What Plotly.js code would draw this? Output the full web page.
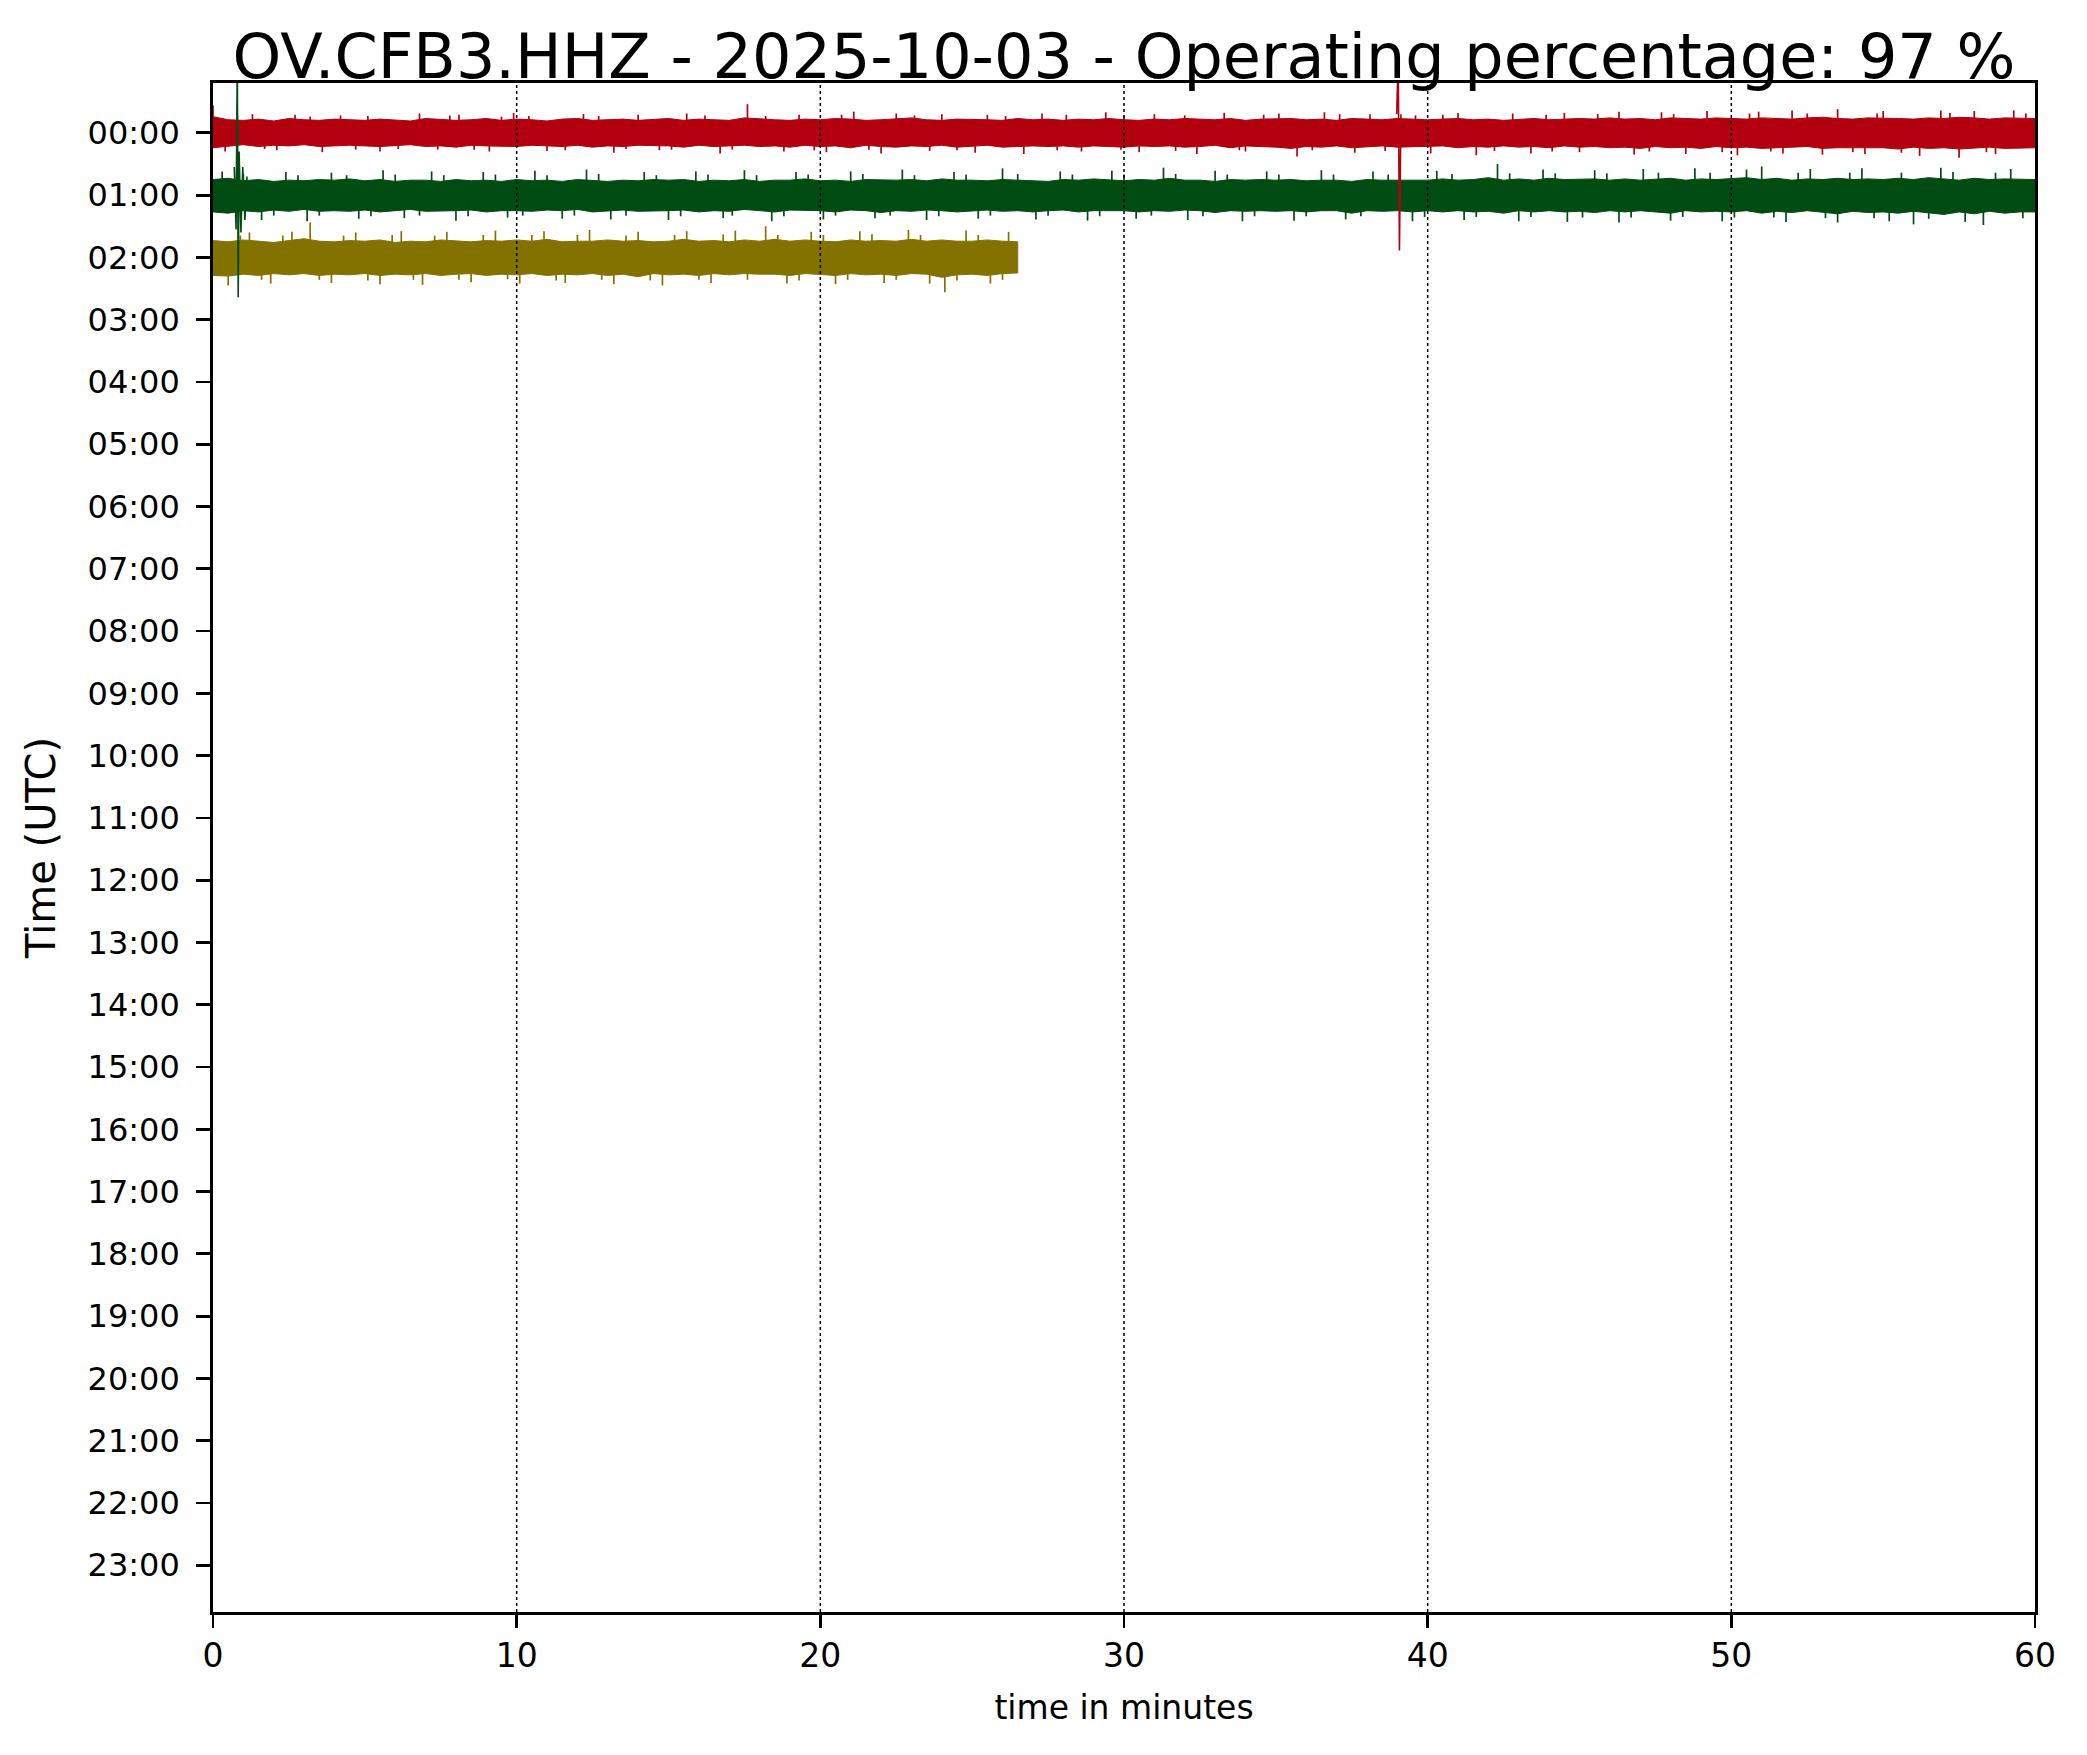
<!DOCTYPE html>
<html>
<head>
<meta charset="utf-8">
<script src="https://cdn.plot.ly/plotly-3.0.1.min.js"></script>
<style>html,body{margin:0;padding:0;background:#fff;}#chart{width:2087px;height:1755px;}</style>
</head>
<body>
<div id="chart"></div>
<script>
// ---- data ----
const titleText = "OV.CFB3.HHZ - 2025-10-03 - Operating percentage: 97 %";
const xTicks = [0, 10, 20, 30, 40, 50, 60];
const hourTicks = [0,1,2,3,4,5,6,7,8,9,10,11,12,13,14,15,16,17,18,19,20,21,22,23];
const hourLabels = ["00:00","01:00","02:00","03:00","04:00","05:00","06:00","07:00","08:00","09:00","10:00","11:00",
  "12:00","13:00","14:00","15:00","16:00","17:00","18:00","19:00","20:00","21:00","22:00","23:00"];
const traceHours = [0, 1, 2];
const traceColors = ["#B2000F", "#004C12", "#847200"];
const sampleStep = 0.5; // minutes between envelope samples

// noise envelope, hundredths of an hour (up = above baseline, down = below)
const redUp = [26,21,20,22,19,23,21,20,22,21, 20,22,21,19,23,22,20,21,23,20, 22,21,19,22,23,20,21,22,20,21,
  23,20,22,21,20,24,22,21,20,22, 21,23,22,20,21,22,24,21,20,22, 22,21,20,23,21,22,20,22,21,23,
  21,20,22,21,23,22,21,23,20,22, 22,23,21,22,20,23,22,21,23,22, 21,22,23,21,22,20,22,23,21,22,
  23,22,24,22,23,21,24,23,22,24, 23,22,24,23,22,24,25,23,22,24, 24,23,22,24,23,25,24,22,24,23, 23];
const redDown = [24,21,19,22,20,21,19,22,21,20, 21,22,20,19,22,21,23,20,21,22, 22,20,21,22,20,23,21,22,20,21,
  21,23,20,22,21,20,22,21,23,20, 22,21,24,20,22,23,21,22,20,23, 21,20,23,22,21,22,21,23,21,22,
  23,21,22,21,23,22,20,24,21,22, 23,25,22,23,21,24,22,21,23,22, 22,21,24,22,23,21,23,22,24,21,
  23,22,24,23,25,22,24,23,25,22, 24,23,25,24,23,22,25,24,23,24, 24,26,23,25,24,26,25,23,25,24, 24];
const greenUp = [25,27,23,25,22,24,23,25,24,26, 23,25,22,24,24,22,25,23,24,22, 25,23,24,22,25,24,22,24,23,25,
  24,25,22,24,23,25,22,24,24,26, 23,24,22,25,24,24,25,23,26,24, 24,23,25,24,24,22,25,24,26,24,
  23,25,24,27,24,24,22,25,24,25, 24,25,23,24,24,22,25,24,24,23, 24,26,24,25,28,24,26,24,27,25,
  25,26,24,26,24,25,27,24,26,25, 26,28,25,27,24,26,25,27,25,26, 25,27,25,28,26,24,27,25,26,25, 25];
const greenDown = [27,29,25,27,24,26,23,26,25,26, 24,27,25,23,26,25,25,24,27,25, 25,26,24,25,23,27,25,24,26,25,
  25,24,27,25,26,23,25,27,24,25, 25,27,24,25,28,25,26,24,25,27, 25,24,26,25,27,25,24,27,25,25,
  25,27,25,26,24,25,28,25,26,25, 26,25,27,25,25,29,25,26,25,27, 25,27,25,27,26,29,25,27,25,27,
  26,28,25,27,25,27,29,25,27,26, 27,25,29,26,28,25,27,30,26,28, 27,29,26,28,31,27,30,26,29,27, 27];
const oliveUp = [27,25,28,26,24,27,30,26,25,27, 26,28,24,26,25,28,26,25,27,26, 28,26,29,25,26,26,28,26,27,25,
  26,29,26,27,25,28,26,29,26,28, 26,25,28,26,27,26,29,26,28,26, 26,28,26,25];
const oliveDown = [29,30,27,29,26,28,26,29,27,28, 26,29,27,28,26,29,27,26,29,27, 28,26,29,27,28,26,29,27,31,26,
  28,27,29,26,28,26,27,27,29,26, 27,29,26,28,27,29,26,27,32,28, 27,29,26,25];

// larger noise spikes: minute and peak (hundredths of an hour, + up / - down)
const redSpikeMin = [0.0,0.4,1.3,2.1,2.7,3.6,4.2,5.5,6.8,7.4,8.1,9.1,9.9,11.0,12.2,13.2,14.0,14.7,15.6,16.7,17.6,18.8,19.3,
  20.2,21.1,22.0,22.5,23.6,24.0,25.1,25.5,26.7,27.3,28.6,29.4,30.5,31.0,32.4,33.3,34.0,35.1,35.7,36.6,37.6,38.1,
  40.1,41.0,41.6,42.8,43.4,44.5,45.0,46.3,46.8,47.7,48.5,49.2,50.2,50.9,51.7,52.0,53.0,53.5,54.4,55.0,56.2,56.9,57.5,58.0,58.7,59.3];
const redSpikeAmp = [44,-30,30,-28,29,-31,28,-30,31,-27,29,-30,32,-29,30,-32,29,-28,31,-33,46,-30,29,
  -31,34,-33,31,-29,30,-32,29,-34,31,-30,33,-31,30,-34,32,-30,31,-38,33,-32,30,
  -33,32,-36,31,-33,32,-31,34,-35,33,-34,35,-36,34,-33,36,-35,38,-34,35,-37,36,-40,35,-34,36];
const greenSpikeMin = [0.3,1.6,2.4,3.1,3.9,4.8,5.6,6.3,7.2,8.0,8.9,9.7,10.6,11.5,12.3,13.1,14.2,15.0,15.9,16.8,17.5,18.4,19.2,
  20.1,21.0,21.8,22.7,23.5,24.4,25.2,26.0,27.1,27.9,28.8,29.6,30.4,31.3,32.1,33.0,33.9,34.7,35.6,36.5,37.3,38.2,39.5,
  40.3,41.2,42.3,43.0,43.8,44.6,45.5,46.3,47.1,48.0,48.8,49.7,50.5,51.0,51.8,52.6,53.5,54.3,55.2,56.0,56.9,57.7,58.3,59.2];
const greenSpikeAmp = [38,-40,37,-42,36,-38,40,-37,38,-41,37,-36,39,-38,41,-39,37,-40,38,-37,40,-42,37,
  -39,38,-37,41,-40,37,-38,43,-39,38,-41,39,-38,44,-40,39,-42,38,-41,40,-39,38,-42,
  39,-40,50,-42,41,-43,40,-44,42,-41,43,-42,41,46,-43,42,-44,43,-42,-47,44,-43,-48,42];
const oliveSpikeMin = [0.5,1.2,1.9,2.6,3.2,3.9,4.7,5.5,6.2,6.9,7.7,8.5,9.3,10.1,10.9,11.6,12.4,13.2,14.0,14.8,15.6,16.4,17.2,
  18.2,18.9,19.7,20.5,21.3,22.1,22.9,23.6,24.1,24.8,25.6,26.2];
const oliveSpikeAmp = [-45,40,-42,41,56,-41,40,-43,42,-44,41,-40,43,-42,42,-41,44,-43,41,-45,42,-41,43,
  50,-42,41,-43,42,-41,44,-42,-56,43,-42,41];

// smaller noise spikes (same units)
const redMinorMin = [0.8,1.7,3.2,4.7,5.1,6.1,7.8,8.6,9.5,10.4,11.6,12.7,13.6,15.1,16.2,17.1,18.2,19.8,20.7,21.6,23.1,24.5,26.1,
  27.8,28.1,29.9,30.0,31.7,32.0,33.8,34.6,36.2,37.1,38.6,39.6,40.5,42.2,43.9,44.1,45.6,47.3,48.1,49.7,50.6,51.3,52.5,
  54.0,54.8,55.6,57.2,58.4,59.7];
const redMinorAmp = [27,-26,26,-27,27,-26,28,-27,26,27,-28,27,-26,-27,28,-27,27,-28,29,-27,28,-28,27,
  -28,29,-27,28,-29,28,-28,29,-28,30,-29,28,29,-29,29,-30,30,-30,30,-31,31,-30,31,
  -31,31,-32,32,-31,31];
const greenMinorMin = [1.0,2.0,2.8,3.5,4.4,5.2,6.0,6.8,7.6,8.4,9.3,10.2,11.0,11.9,12.7,13.6,14.6,15.4,16.3,17.1,17.9,18.8,19.6,
  20.5,21.4,22.3,23.1,23.9,24.8,25.6,26.5,27.5,28.3,29.2,30.0,30.9,31.7,32.6,33.4,34.3,35.1,36.0,36.9,37.8,38.7,39.9,
  40.8,41.6,42.7,43.4,44.2,45.1,45.9,46.7,47.6,48.4,49.3,50.1,51.4,52.2,53.1,53.9,54.7,55.6,56.5,57.3,58.7,59.6];
const greenMinorAmp = [33,-33,32,-33,32,-34,33,-33,32,-34,33,-33,32,-33,34,-33,32,-34,33,-33,32,-34,33,
  -33,34,-33,32,-34,33,-33,34,-33,33,-34,33,-33,34,-34,33,-34,33,-34,33,-34,33,-35,
  34,-35,35,-35,35,-36,35,-36,36,-35,36,-36,-36,36,-37,36,-37,36,-38,37,36,-37];
const oliveMinorMin = [0.9,1.6,2.3,3.5,4.3,5.1,5.9,6.6,7.3,8.1,8.9,9.7,10.5,11.3,12.0,12.8,13.6,14.4,15.2,16.0,16.8,17.6,18.6,
  19.3,20.1,20.9,21.7,22.5,23.3,24.5,25.2,26.0];
const oliveMinorAmp = [35,-36,35,-36,35,-37,36,-36,35,-36,36,-35,36,-37,36,-36,35,-37,36,-36,37,-36,36,
  -37,36,-36,37,-36,36,-37,36,-36];

// isolated transients: minute, amplitude in hours (positive = up)
const greenEventMin = [0.70, 0.76, 0.80, 0.83, 0.86, 0.92, 0.98, 1.05, 1.12];
const greenEventAmp = [0.45, -0.55, 2.2, -1.64, 0.7, -0.6, 0.45, -0.4, 0.3];
const redEventMin = [38.98, 39.03, 39.07, 39.12];
const redEventAmp = [0.3, 1.2, -1.89, 0.3];

// ---- build traces ----
const envUp = [redUp, greenUp, oliveUp];
const envDown = [redDown, greenDown, oliveDown];
const spikeMin = [redSpikeMin.concat(redMinorMin), greenSpikeMin.concat(greenMinorMin), oliveSpikeMin.concat(oliveMinorMin)];
const spikeAmp = [redSpikeAmp.concat(redMinorAmp), greenSpikeAmp.concat(greenMinorAmp), oliveSpikeAmp.concat(oliveMinorAmp)];
const data = [];
for (let k = 0; k < traceHours.length; k++) {
  const base = traceHours[k];
  const up = envUp[k], down = envDown[k];
  const xs = [], ys = [];
  for (let i = 0; i < up.length; i++) { xs.push(i * sampleStep); ys.push(base - up[i] / 100); }
  for (let i = down.length - 1; i >= 0; i--) { xs.push(i * sampleStep); ys.push(base + down[i] / 100); }
  xs.push(0); ys.push(base - up[0] / 100);
  data.push({x: xs, y: ys, type: 'scatter', mode: 'lines', fill: 'toself',
    fillcolor: traceColors[k], line: {color: traceColors[k], width: 1}, hoverinfo: 'skip', showlegend: false});
  const sx = [], sy = [];
  for (let i = 0; i < spikeMin[k].length; i++) {
    sx.push(spikeMin[k][i], spikeMin[k][i], null);
    sy.push(base, base - spikeAmp[k][i] / 100, null);
  }
  data.push({x: sx, y: sy, type: 'scatter', mode: 'lines', connectgaps: false,
    line: {color: traceColors[k], width: 1.7}, hoverinfo: 'skip', showlegend: false});
}
data.push({x: greenEventMin, y: greenEventAmp.map(a => traceHours[1] - a), type: 'scatter', mode: 'lines',
  line: {color: traceColors[1], width: 1.6}, hoverinfo: 'skip', showlegend: false});
data.push({x: redEventMin, y: redEventAmp.map(a => traceHours[0] - a), type: 'scatter', mode: 'lines',
  line: {color: traceColors[0], width: 1.6}, hoverinfo: 'skip', showlegend: false});

const font = "DejaVu Sans, Liberation Sans, sans-serif";
const shapes = xTicks.filter(v => v > 0 && v < 60).map(v => ({
  type: 'line', xref: 'x', yref: 'paper', x0: v, x1: v, y0: 0, y1: 1, layer: 'above',
  line: {color: '#000', width: 1.5, dash: 'dot'}
}));

const layout = {
  width: 2087, height: 1755,
  margin: {l: 213, r: 52, t: 83, b: 143, pad: 0},
  paper_bgcolor: '#fff', plot_bgcolor: '#fff',
  font: {family: font, color: '#000', size: 33},
  title: {text: titleText, font: {family: font, size: 62, color: '#000'},
    x: 0.5, xref: 'paper', xanchor: 'center', y: 1 - 56 / 1755, yref: 'container', yanchor: 'middle'},
  xaxis: {range: [0, 60], tickvals: xTicks, ticktext: xTicks.map(String), showgrid: false, zeroline: false,
    showline: true, mirror: true, linecolor: '#000', linewidth: 2.8,
    ticks: 'outside', ticklen: 13, tickwidth: 2.8, tickcolor: '#000',
    tickfont: {family: font, size: 33, color: '#000'},
    title: {text: 'time in minutes', font: {family: font, size: 33, color: '#000'}, standoff: 22}},
  yaxis: {range: [23.75, -0.8], tickvals: hourTicks, ticktext: hourLabels, showgrid: false, zeroline: false,
    showline: true, mirror: true, linecolor: '#000', linewidth: 2.8,
    ticks: 'outside', ticklen: 14, tickwidth: 2.8, tickcolor: '#000', ticklabelstandoff: 10,
    tickfont: {family: font, size: 32, color: '#000'},
    title: {text: 'Time (UTC)', font: {family: font, size: 40, color: '#000'}, standoff: 20}},
  shapes: shapes
};

Plotly.newPlot('chart', data, layout, {displayModeBar: false, staticPlot: true});
</script>
</body>
</html>
